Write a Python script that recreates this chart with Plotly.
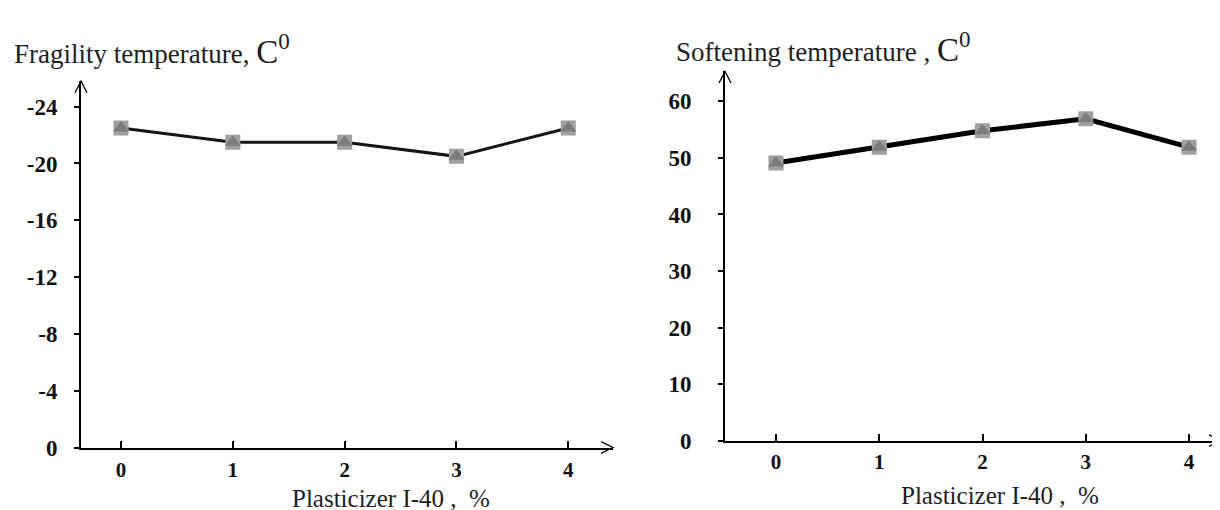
import plotly.graph_objects as go

# ---- data ----
plasticizer = [0, 1, 2, 3, 4]
fragility_temp = [-22.5, -21.5, -21.5, -20.5, -22.5]
softening_temp = [49.1, 51.9, 54.8, 56.9, 51.9]
frag_ticks = [-24, -20, -16, -12, -8, -4, 0]
frag_tick_text = ["-24", "-20", "-16", "-12", "-8", "-4", "0"]
soft_ticks = [0, 10, 20, 30, 40, 50, 60]
x_ticks = [0, 1, 2, 3, 4]

W, H = 1220, 510
def px(x):
    return x / W
def py(y):
    return 1 - y / H

SERIF = "Liberation Serif, Times New Roman, serif"
TXT = "#1e1e1e"

fig = go.Figure()

# left chart
fig.add_trace(go.Scatter(x=plasticizer, y=fragility_temp, mode="lines+markers",
                         line=dict(color="#151515", width=3),
                         marker=dict(symbol="square", size=15, color="#a0a0a0"),
                         xaxis="x", yaxis="y", showlegend=False, hoverinfo="skip"))
fig.add_trace(go.Scatter(x=plasticizer, y=fragility_temp, mode="markers",
                         marker=dict(symbol="triangle-up", size=14, color="#7c7c7c"),
                         xaxis="x", yaxis="y", showlegend=False, hoverinfo="skip"))
# right chart
fig.add_trace(go.Scatter(x=plasticizer, y=softening_temp, mode="lines+markers",
                         line=dict(color="#000000", width=5),
                         marker=dict(symbol="square", size=15, color="#a0a0a0"),
                         xaxis="x2", yaxis="y2", showlegend=False, hoverinfo="skip"))
fig.add_trace(go.Scatter(x=plasticizer, y=softening_temp, mode="markers",
                         marker=dict(symbol="triangle-up", size=14, color="#7c7c7c"),
                         xaxis="x2", yaxis="y2", showlegend=False, hoverinfo="skip"))

ytickfont = dict(family=SERIF, size=23, color="#111111", weight="bold")
xtickfont = dict(family=SERIF, size=21, color="#111111", weight="bold")
common_x = dict(showgrid=False, zeroline=False, showline=True, linecolor="black",
                linewidth=2, ticks="inside", ticklen=7, tickwidth=1.5, tickcolor="black",
                tickvals=x_ticks, tickfont=xtickfont, fixedrange=True)
common_y = dict(showgrid=False, zeroline=False, showline=True, linecolor="black",
                linewidth=2, ticks="outside", ticklen=5, tickwidth=1.5, tickcolor="black",
                tickfont=ytickfont, fixedrange=True)

L = dict(x0=73, x1=605, y0=451, y1=75)
R = dict(x0=717, x1=1213, y0=444, y1=65)

fig.update_layout(
    width=W, height=H, autosize=False,
    margin=dict(l=0, r=0, t=0, b=0),
    paper_bgcolor="white", plot_bgcolor="white",
    xaxis=dict(domain=[px(L["x0"]), px(L["x1"])], range=[-0.358, 4.40],
               anchor="y", ticklabelstandoff=2, **common_x),
    yaxis=dict(domain=[py(L["y0"]), py(L["y1"])], range=[0, -25.8],
               anchor="x", tickvals=frag_ticks, ticktext=frag_tick_text,
               ticklabelstandoff=12, **common_y),
    xaxis2=dict(domain=[px(R["x0"]), px(R["x1"])], range=[-0.494, 4.31],
                anchor="y2", ticklabelstandoff=1, **common_x),
    yaxis2=dict(domain=[py(R["y0"]), py(R["y1"])], range=[0, 65.3],
                anchor="x2", tickvals=soft_ticks, ticklabelstandoff=22, **common_y),
)

# arrow chevrons
def chevron_up(x, y):
    return dict(type="path", xref="paper", yref="paper",
                path=f"M {px(x-6)} {py(y+12)} L {px(x)} {py(y)} L {px(x+6)} {py(y+12)}",
                line=dict(color="black", width=1.3))
def chevron_right(x, y):
    return dict(type="path", xref="paper", yref="paper",
                path=f"M {px(x-12)} {py(y-6)} L {px(x)} {py(y)} L {px(x-12)} {py(y+6)}",
                line=dict(color="black", width=1.3))

fig.update_layout(shapes=[
    chevron_up(L["x0"], L["y1"]), chevron_right(L["x1"], L["y0"]),
    chevron_up(R["x0"], R["y1"]), chevron_right(R["x1"], R["y0"]),
])

titlefont = dict(family=SERIF, size=27, color=TXT)
axisfont = dict(family=SERIF, size=25, color=TXT)
annos = [
    dict(text="Fragility temperature, <span style='font-size:33px'>C<sup>0</sup></span>",
         x=px(4), y=py(42), xanchor="left", yanchor="middle", font=titlefont),
    dict(text="Softening temperature , <span style='font-size:33px'>C<sup>0</sup></span>",
         x=px(666), y=py(40), xanchor="left", yanchor="middle", font=titlefont),
    dict(text="Plasticizer I-40 ,  %", x=px(383), y=py(503), xanchor="center",
         yanchor="middle", font=axisfont),
    dict(text="Plasticizer I-40 ,  %", x=px(992), y=py(500), xanchor="center",
         yanchor="middle", font=axisfont),
]
fig.update_layout(annotations=[dict(xref="paper", yref="paper", showarrow=False, **a)
                               for a in annos])

fig.write_html("out.html")
